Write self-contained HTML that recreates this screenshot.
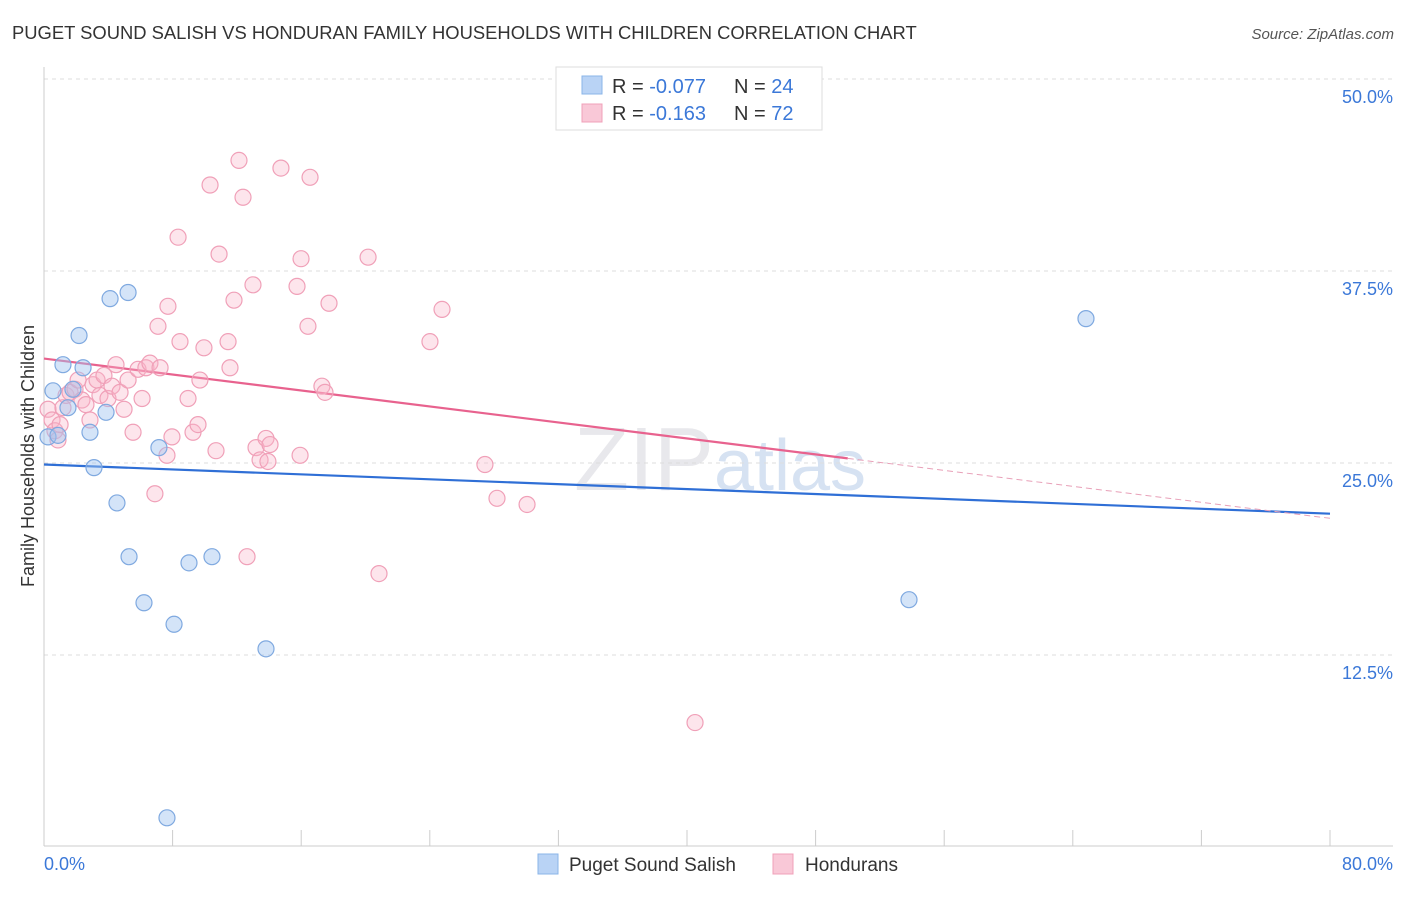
<!DOCTYPE html>
<html><head><meta charset="utf-8"><style>
body{margin:0;background:#fff;font-family:"Liberation Sans",sans-serif}
svg text{font-family:"Liberation Sans",sans-serif}
</style></head><body>
<svg id="chart" width="1406" height="892">
<text x="12" y="39" font-size="18.4" fill="#333">PUGET SOUND SALISH VS HONDURAN FAMILY HOUSEHOLDS WITH CHILDREN CORRELATION CHART</text>
<text x="1394" y="39" font-size="15" fill="#555" text-anchor="end" font-style="italic">Source: ZipAtlas.com</text>
<text x="720" y="490" font-size="90" fill="#e8e8ec" text-anchor="middle" font-family="Liberation Serif">ZIP<tspan fill="#d6e2f2" font-family="Liberation Sans" font-size="72">atlas</tspan></text>
<g id="grid"></g>
<g id="axes"></g>
<g id="trend"></g>
<g id="pts"></g>
<text transform="translate(34,456) rotate(-90)" font-size="18" fill="#333" text-anchor="middle">Family Households with Children</text>
<g>
<rect x="556" y="67" width="266" height="63" fill="#fff" stroke="#ddd"/>
<rect x="582" y="76" width="20" height="18" fill="#b9d3f5" stroke="#8ab4e8"/>
<rect x="582" y="104" width="20" height="18" fill="#f9c8d7" stroke="#f0a0b8"/>
<text x="612" y="93" font-size="20" fill="#333">R = <tspan fill="#3b78d8">-0.077</tspan><tspan x="734">N = </tspan><tspan fill="#3b78d8">24</tspan></text>
<text x="612" y="120" font-size="20" fill="#333">R = <tspan fill="#3b78d8"> -0.163</tspan><tspan x="734">N = </tspan><tspan fill="#3b78d8">72</tspan></text>
</g>
<g>
<rect x="538" y="854" width="20" height="20" fill="#b9d3f5" stroke="#8ab4e8"/>
<text x="569" y="871" font-size="19" fill="#333">Puget Sound Salish</text>
<rect x="773" y="854" width="20" height="20" fill="#f9c8d7" stroke="#f0a0b8"/>
<text x="805" y="871" font-size="19" fill="#333">Hondurans</text>
</g>
</svg>
<script>
const blueX=[0.25,0.56,0.87,1.18,1.49,2.18,2.43,2.86,3.11,3.86,4.11,4.54,5.23,5.29,6.22,7.15,8.09,9.02,10.45,13.81,7.65,53.81,64.82,1.80];
const blueY=[26.7,29.7,26.8,31.4,28.6,33.3,31.2,27.0,24.7,28.3,35.7,22.4,36.1,18.9,15.9,26.0,14.5,18.5,18.9,12.9,1.9,16.1,34.4,29.8];
const pinkX=[0.25,0.5,0.68,0.87,1.0,1.18,1.37,1.62,1.93,2.12,2.36,2.61,2.86,3.05,3.30,3.48,3.73,3.98,4.23,4.48,4.73,4.98,5.23,5.54,5.85,6.10,6.34,6.59,6.90,7.09,7.22,7.65,7.71,7.96,8.34,8.46,8.96,9.27,9.58,9.70,9.95,10.33,10.70,10.89,11.45,11.57,11.82,12.13,12.38,12.63,13.0,13.19,13.44,13.81,13.93,14.06,14.74,15.74,15.93,15.99,16.42,16.55,17.29,17.48,17.73,20.16,20.84,24.01,24.76,27.43,28.18,30.05,40.5];
const pinkY=[28.5,27.8,27.1,26.5,27.5,28.6,29.4,29.6,29.8,30.4,29.1,28.8,27.8,30.1,30.4,29.4,30.7,29.2,30.0,31.4,29.6,28.5,30.4,27.0,31.1,29.2,31.2,31.5,23.0,33.9,31.2,25.5,35.2,26.7,39.7,32.9,29.2,27.0,27.5,30.4,32.5,43.1,25.8,38.6,32.9,31.2,35.6,44.7,42.3,18.9,36.6,26.0,25.2,26.6,25.1,26.2,44.2,36.5,25.5,38.3,33.9,43.6,30.0,29.6,35.4,38.4,17.8,32.9,35.0,24.9,22.7,22.3,8.1];
const blueTrend=[24.9,21.7];
const pinkTrend=[31.8,21.4];
const yTicks=[12.5,25,37.5,50];
const yTickLabels=["12.5%","25.0%","37.5%","50.0%"];
const xTicks=[0,8,16,24,32,40,48,56,64,72,80];
const NS="http://www.w3.org/2000/svg";
const sx=v=>44+v/80*1286, sy=v=>847-v*15.36;
function mk(tag,attrs,parent){const e=document.createElementNS(NS,tag);for(const k in attrs)e.setAttribute(k,attrs[k]);document.getElementById(parent).appendChild(e);return e;}
yTicks.forEach((t,i)=>{
 const l=mk('line',{x1:44,x2:1393,y1:sy(t),y2:sy(t),stroke:'#ddd','stroke-dasharray':'4,4'},'grid');
 
 
 const tx=mk('text',{x:1393,y:sy(t)+24,'font-size':18,fill:'#3b78d8','text-anchor':'end'},'grid');
 tx.textContent=yTickLabels[i];
 
 
});
mk('line',{x1:44,x2:44,y1:67,y2:846,stroke:'#ccc'},'axes');
mk('line',{x1:44,x2:1393,y1:846,y2:846,stroke:'#ccc'},'axes');
xTicks.forEach(t=>{const l=mk('line',{x1:sx(t),x2:sx(t),y1:830,y2:846,stroke:'#ccc'},'axes');
 
 });
let a=mk('text',{x:44,y:870,'font-size':18,fill:'#3b78d8'},'axes');a.textContent='0.0%';


let b=mk('text',{x:1393,y:870,'font-size':18,fill:'#3b78d8','text-anchor':'end'},'axes');b.textContent='80.0%';


let t1=mk('line',{x1:sx(0),y1:sy(blueTrend[0]),x2:sx(80),y2:sy(blueTrend[1]),stroke:'#2f6fd6','stroke-width':2.2},'trend');


const pm=pinkTrend[0]+(pinkTrend[1]-pinkTrend[0])*50/80;
let t2=mk('line',{x1:sx(0),y1:sy(pinkTrend[0]),x2:sx(50),y2:sy(pm),stroke:'#e8628e','stroke-width':2.2},'trend');


let t3=mk('line',{x1:sx(50),y1:sy(pm),x2:sx(80),y2:sy(pinkTrend[1]),stroke:'#e8a0b8','stroke-width':1,'stroke-dasharray':'6,4'},'trend');


pinkX.forEach((x,i)=>{const c=mk('circle',{cx:sx(x),cy:sy(pinkY[i]),r:8,fill:'rgba(248,180,200,0.35)',stroke:'#f0a0b8','stroke-width':1.2},'pts');
 
 });
blueX.forEach((x,i)=>{const c=mk('circle',{cx:sx(x),cy:sy(blueY[i]),r:8,fill:'rgba(160,196,240,0.45)',stroke:'#7fa9e0','stroke-width':1.2},'pts');
 
 });
</script>
</body></html>
